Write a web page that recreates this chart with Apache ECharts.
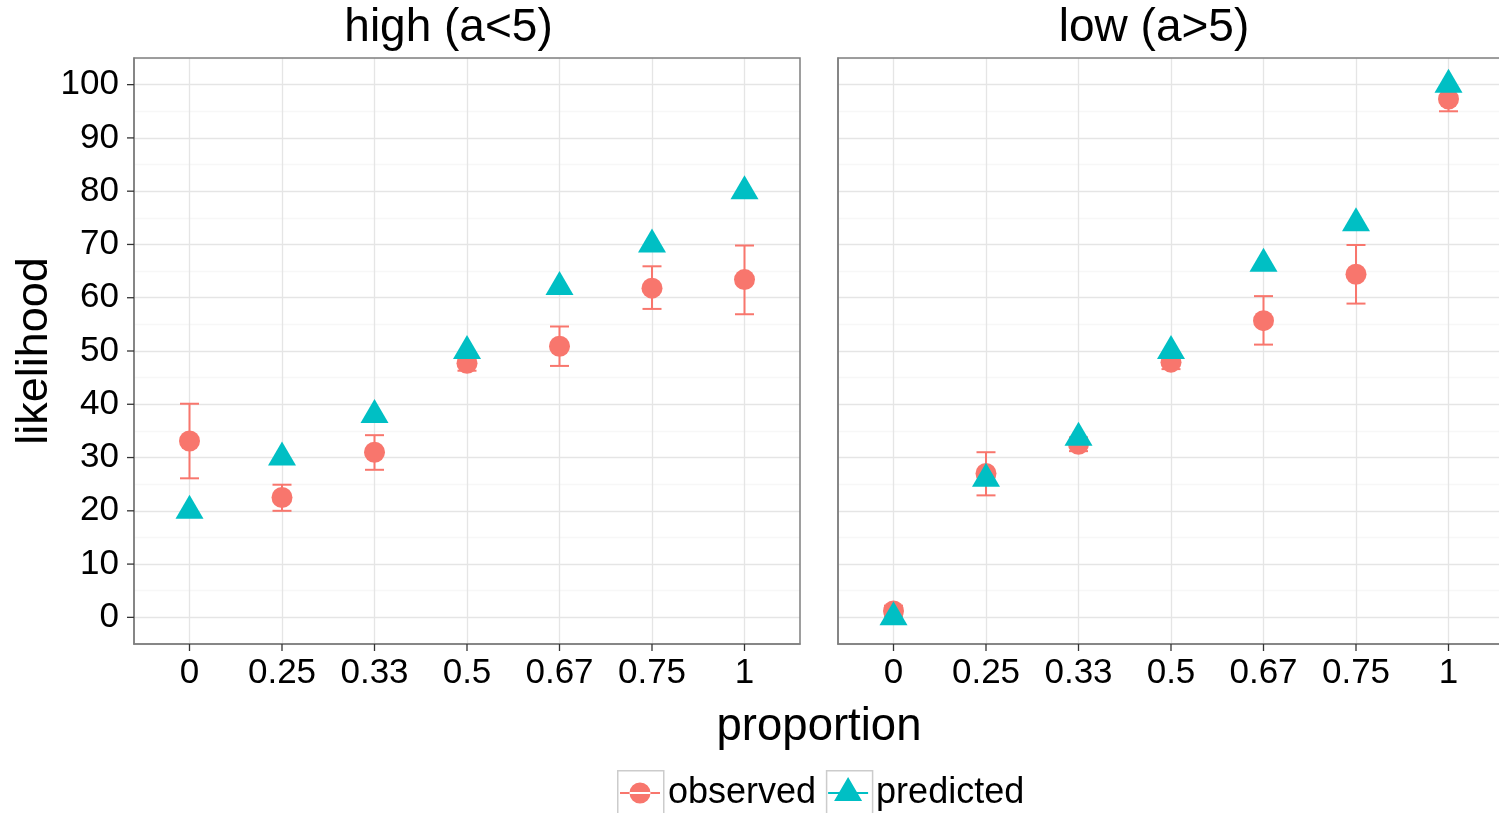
<!DOCTYPE html>
<html><head><meta charset="utf-8">
<script src="https://cdn.jsdelivr.net/npm/echarts@6/dist/echarts.min.js"></script>
<style>html,body{margin:0;padding:0;background:#fff;overflow:hidden}#c{width:1510px;height:813px}</style>
</head><body><div id="c"></div>
<script>
// ---- data ----
const categories = ['0', '0.25', '0.33', '0.5', '0.67', '0.75', '1'];
const panelTitles = ['high (a<5)', 'low (a>5)'];
const yTicks = [0, 10, 20, 30, 40, 50, 60, 70, 80, 90, 100];
const seriesNames = ['observed', 'predicted'];

const highObserved  = [33.1, 22.5, 31.0, 47.7, 50.9, 61.8, 63.4];
const highLower     = [26.1, 20.0, 27.7, 46.3, 47.2, 57.9, 56.9];
const highUpper     = [40.1, 24.9, 34.2, 49.1, 54.6, 65.9, 69.8];
const highPredicted = [20, 30, 38, 50, 62, 70, 80];

const lowObserved   = [1.2, 27.0, 32.5, 47.9, 55.7, 64.4, 97.3];
const lowLower      = [0.2, 22.9, 31.2, 46.6, 51.2, 58.9, 95.0];
const lowUpper      = [2.2, 31.0, 33.8, 49.2, 60.3, 69.9, 99.6];
const lowPredicted  = [0, 26, 33.7, 50, 66.4, 74, 100];

// ---- styling ----
const RED = '#F8766D', TEAL = '#00BFC4';
const FONT = "'Liberation Sans', Arial, Helvetica, sans-serif";
const BORDER = '#7F7F7F', TICK = '#333333';
const xIdx = categories.map((c, i) => i);
const X_MIN = -0.6, X_MAX = categories.length - 1 + 0.6, Y_MIN = -5, Y_MAX = 105;

const chart = echarts.init(document.getElementById('c'), null, {renderer: 'canvas'});

const grids = [
  {left: 134, top: 58, width: 666, height: 586},
  {left: 838, top: 58, width: 666, height: 586}
].map(g => Object.assign(g, {show: true, backgroundColor: 'transparent', borderColor: BORDER, borderWidth: 1.5, z: 10}));

function bottomX(gi) {
  return {
    type: 'value', gridIndex: gi, position: 'bottom', min: X_MIN, max: X_MAX,
    axisLine: {show: true, onZero: false, lineStyle: {color: BORDER, width: 1.5}},
    axisTick: {show: false, customValues: xIdx},
    axisLabel: {show: true, customValues: xIdx, margin: 12, color: '#000', fontSize: 35, fontFamily: FONT,
      formatter: v => categories[Math.round(v)]},
    splitLine: {show: true, lineStyle: {color: '#E5E5E5', width: 1.3}}
  };
}
function mainY(gi) {
  return {
    type: 'value', gridIndex: gi, position: 'left', min: Y_MIN, max: Y_MAX,
    axisLine: {show: true, onZero: false, lineStyle: {color: BORDER, width: 1.5}},
    axisTick: {show: false, customValues: yTicks},
    axisLabel: {show: gi === 0, customValues: yTicks, margin: 15, color: '#000', fontSize: 35, fontFamily: FONT},
    splitLine: {show: true, lineStyle: {color: '#E5E5E5', width: 1.3}},
    name: gi === 0 ? 'likelihood' : '', nameLocation: 'middle', nameRotate: 90, nameGap: 72,
    nameTextStyle: {fontSize: 45, fontFamily: FONT, color: '#000'}
  };
}
function minorY(gi) {
  return {
    type: 'value', gridIndex: gi, position: 'right', min: Y_MIN, max: Y_MAX, interval: 10,
    axisLine: {show: false, onZero: false}, axisTick: {show: false}, axisLabel: {show: false},
    splitLine: {show: true, lineStyle: {color: '#F7F7F7', width: 1.3}}
  };
}

// axis tick marks, positioned through the axes' own scales
function xTickSeries(ai) {
  return {
    type: 'custom', name: 'xticks' + ai, xAxisIndex: ai, yAxisIndex: ai, silent: true, clip: false, z: 11,
    data: xIdx.map(i => [i, Y_MIN]),
    renderItem(params, api) {
      const p = api.coord([api.value(0), api.value(1)]);
      return {type: 'line', shape: {x1: p[0], y1: p[1], x2: p[0], y2: p[1] + 7}, style: {stroke: TICK, lineWidth: 1.3}};
    }
  };
}
function yTickSeries(ai) {
  return {
    type: 'custom', name: 'yticks' + ai, xAxisIndex: ai, yAxisIndex: ai, silent: true, clip: false, z: 11,
    data: yTicks.map(v => [X_MIN, v]),
    renderItem(params, api) {
      const p = api.coord([api.value(0), api.value(1)]);
      return {type: 'line', shape: {x1: p[0] - 7, y1: p[1], x2: p[0], y2: p[1]}, style: {stroke: TICK, lineWidth: 1.3}};
    }
  };
}

function errorSeries(ai, lo, hi) {
  return {
    type: 'custom', name: 'observed', xAxisIndex: ai, yAxisIndex: ai, silent: true,
    itemStyle: {color: RED},
    data: lo.map((l, i) => [i, l, hi[i]]),
    encode: {x: 0, y: [1, 2]},
    renderItem(params, api) {
      const x = api.value(0);
      const p1 = api.coord([x, api.value(1)]);
      const p2 = api.coord([x, api.value(2)]);
      const w = 9.5;
      const st = {stroke: RED, lineWidth: 2};
      return {type: 'group', children: [
        {type: 'line', shape: {x1: p1[0], y1: p1[1], x2: p2[0], y2: p2[1]}, style: st},
        {type: 'line', shape: {x1: p1[0] - w, y1: p1[1], x2: p1[0] + w, y2: p1[1]}, style: st},
        {type: 'line', shape: {x1: p2[0] - w, y1: p2[1], x2: p2[0] + w, y2: p2[1]}, style: st}
      ]};
    }
  };
}
function obsSeries(ai, vals) {
  return {type: 'scatter', name: 'observed', xAxisIndex: ai, yAxisIndex: ai, symbol: 'circle', symbolSize: 21,
    itemStyle: {color: RED, opacity: 1}, data: vals.map((v, i) => [i, v]), silent: true};
}
function predSeries(ai, vals) {
  return {type: 'scatter', name: 'predicted', xAxisIndex: ai, yAxisIndex: ai, symbol: 'triangle', symbolSize: [28, 24],
    symbolOffset: [0, -4], itemStyle: {color: TEAL, opacity: 1}, data: vals.map((v, i) => [i, v]), silent: true};
}

const anchors = 'M0 0h0.1v0.1h-0.1Z M45.9 45.9h0.1v0.1h-0.1Z ';
const obsIcon = 'path://' + anchors + 'M3 22h40v2H3Z M12.5 23a10.5 10.5 0 1 0 21 0a10.5 10.5 0 1 0 -21 0Z';
const predIcon = 'path://' + anchors + 'M3 22h40v2H3Z M23 7L37 31H9Z';

const legendBase = {
  orient: 'horizontal', left: 617, top: 770, padding: 0, itemWidth: 46, itemHeight: 46, itemGap: 9,
  selectedMode: false
};
const legendText = {fontSize: 36, fontFamily: FONT, padding: [4, 0, 0, 0]};

chart.setOption({
  animation: false,
  backgroundColor: '#fff',
  textStyle: {fontFamily: FONT},
  grid: grids,
  xAxis: [bottomX(0), bottomX(1)],
  yAxis: [mainY(0), mainY(1), minorY(0), minorY(1)],
  legend: [
    Object.assign({}, legendBase, {
      data: seriesNames.map(n => ({name: n, icon: 'rect'})),
      itemStyle: {color: 'rgba(255,255,255,0)', borderColor: '#CCCCCC', borderWidth: 1.5},
      textStyle: Object.assign({color: 'rgba(0,0,0,0)'}, legendText)
    }),
    Object.assign({}, legendBase, {
      data: [
        {name: 'observed', icon: obsIcon, itemStyle: {color: RED}},
        {name: 'predicted', icon: predIcon, itemStyle: {color: TEAL}}
      ],
      textStyle: Object.assign({color: '#000'}, legendText)
    })
  ],
  graphic: [
    {type: 'text', x: 448.5, y: 28,
     style: {text: panelTitles[0], fontSize: 46, fontFamily: FONT, fill: '#000', align: 'center', verticalAlign: 'middle'}},
    {type: 'text', x: 1154, y: 28,
     style: {text: panelTitles[1], fontSize: 46, fontFamily: FONT, fill: '#000', align: 'center', verticalAlign: 'middle'}},
    {type: 'text', x: 819, y: 727,
     style: {text: 'proportion', fontSize: 45.5, fontFamily: FONT, fill: '#000', align: 'center', verticalAlign: 'middle'}}
  ],
  series: [
    xTickSeries(0), yTickSeries(0), xTickSeries(1),
    errorSeries(0, highLower, highUpper),
    obsSeries(0, highObserved),
    predSeries(0, highPredicted),
    errorSeries(1, lowLower, lowUpper),
    obsSeries(1, lowObserved),
    predSeries(1, lowPredicted)
  ]
});
</script>
</body></html>
